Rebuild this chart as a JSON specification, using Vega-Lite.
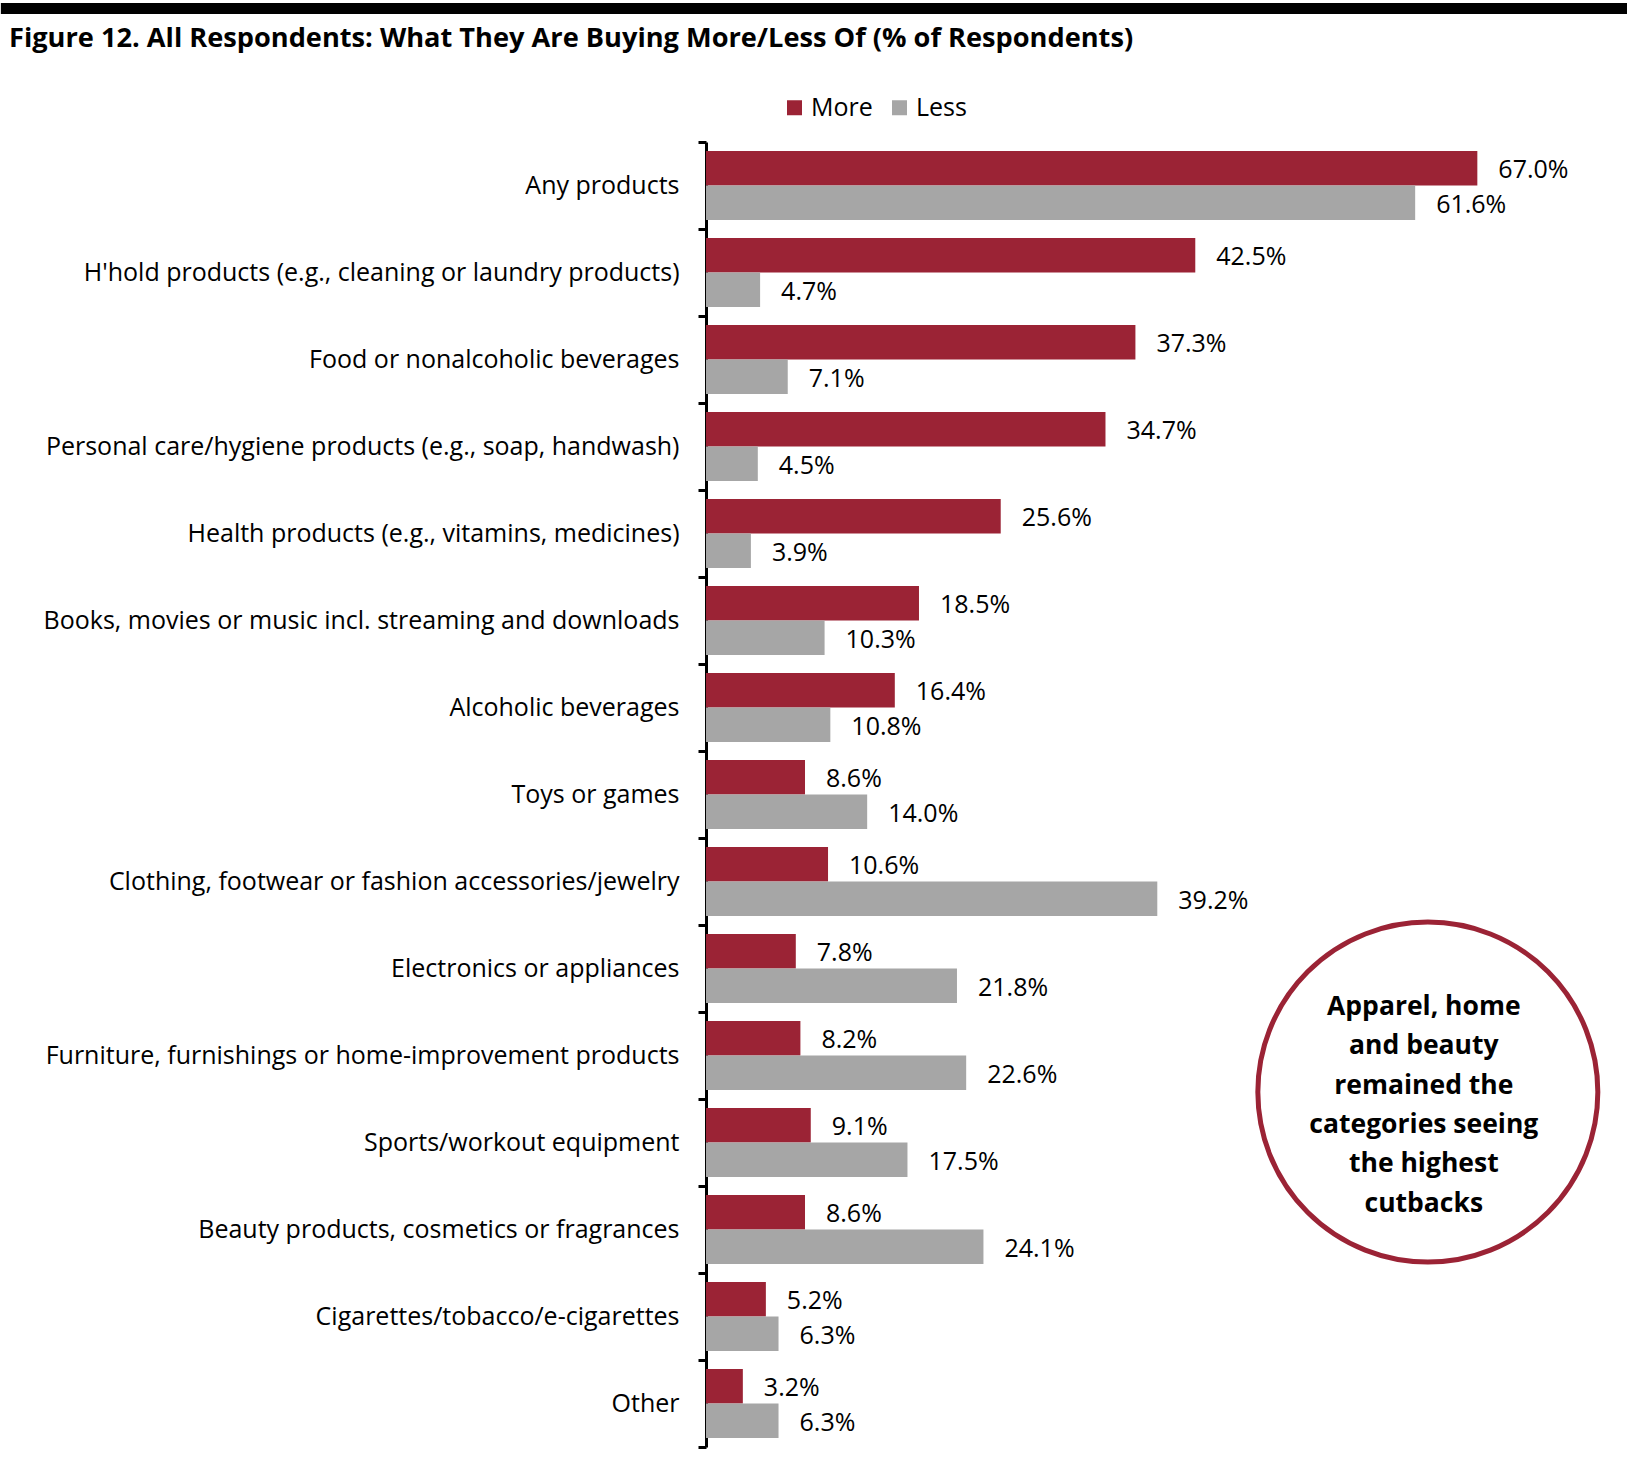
{
  "$schema": "https://vega.github.io/schema/vega-lite/v6.json",
  "padding": {"left": 0, "top": 3, "right": 0, "bottom": 0},
  "background": "white",
  "spacing": 10,
  "config": {"view": {"stroke": null}, "font": "Open Sans"},
  "datasets": {
    "bars": [
      {"cat": "Any products", "series": "More", "value": 0.670},
      {"cat": "Any products", "series": "Less", "value": 0.616},
      {"cat": "H'hold products (e.g., cleaning or laundry products)", "series": "More", "value": 0.425},
      {"cat": "H'hold products (e.g., cleaning or laundry products)", "series": "Less", "value": 0.047},
      {"cat": "Food or nonalcoholic beverages", "series": "More", "value": 0.373},
      {"cat": "Food or nonalcoholic beverages", "series": "Less", "value": 0.071},
      {"cat": "Personal care/hygiene products (e.g., soap, handwash)", "series": "More", "value": 0.347},
      {"cat": "Personal care/hygiene products (e.g., soap, handwash)", "series": "Less", "value": 0.045},
      {"cat": "Health products (e.g., vitamins, medicines)", "series": "More", "value": 0.256},
      {"cat": "Health products (e.g., vitamins, medicines)", "series": "Less", "value": 0.039},
      {"cat": "Books, movies or music incl. streaming and downloads", "series": "More", "value": 0.185},
      {"cat": "Books, movies or music incl. streaming and downloads", "series": "Less", "value": 0.103},
      {"cat": "Alcoholic beverages", "series": "More", "value": 0.164},
      {"cat": "Alcoholic beverages", "series": "Less", "value": 0.108},
      {"cat": "Toys or games", "series": "More", "value": 0.086},
      {"cat": "Toys or games", "series": "Less", "value": 0.140},
      {"cat": "Clothing, footwear or fashion accessories/jewelry", "series": "More", "value": 0.106},
      {"cat": "Clothing, footwear or fashion accessories/jewelry", "series": "Less", "value": 0.392},
      {"cat": "Electronics or appliances", "series": "More", "value": 0.078},
      {"cat": "Electronics or appliances", "series": "Less", "value": 0.218},
      {"cat": "Furniture, furnishings or home-improvement products", "series": "More", "value": 0.082},
      {"cat": "Furniture, furnishings or home-improvement products", "series": "Less", "value": 0.226},
      {"cat": "Sports/workout equipment", "series": "More", "value": 0.091},
      {"cat": "Sports/workout equipment", "series": "Less", "value": 0.175},
      {"cat": "Beauty products, cosmetics or fragrances", "series": "More", "value": 0.086},
      {"cat": "Beauty products, cosmetics or fragrances", "series": "Less", "value": 0.241},
      {"cat": "Cigarettes/tobacco/e-cigarettes", "series": "More", "value": 0.052},
      {"cat": "Cigarettes/tobacco/e-cigarettes", "series": "Less", "value": 0.063},
      {"cat": "Other", "series": "More", "value": 0.032},
      {"cat": "Other", "series": "Less", "value": 0.063}
    ],
    "note": [
      {"cat": "Furniture, furnishings or home-improvement products", "x": 0.627, "lines": ["Apparel, home", "and beauty", "remained the", "categories seeing", "the highest", "cutbacks"]}
    ]
  },
  "vconcat": [
    {
      "width": 921,
      "height": 11,
      "data": {"values": [{"s": -0.6125, "e": 0.8}]},
      "mark": {"type": "rect", "color": "black", "clip": false},
      "encoding": {
        "x": {"field": "s", "type": "quantitative", "scale": {"domain": [0, 0.8], "nice": false, "zero": false}, "axis": null},
        "x2": {"field": "e"}
      }
    },
    {
      "width": 921,
      "height": 1305,
      "title": {
        "text": "Figure 12. All Respondents: What They Are Buying More/Less Of (% of Respondents)",
        "anchor": "start",
        "frame": "bounds",
        "dx": 8,
        "fontSize": 27.2,
        "fontWeight": "bold",
        "color": "black",
        "offset": 77
      },
      "layer": [
        {
          "data": {"name": "bars"},
          "mark": {"type": "bar"},
          "encoding": {
            "x": {"field": "value", "type": "quantitative", "scale": {"domain": [0, 0.8], "nice": false}, "axis": null},
            "y": {
              "field": "cat", "type": "nominal",
              "scale": {"domain": ["Any products", "H'hold products (e.g., cleaning or laundry products)", "Food or nonalcoholic beverages", "Personal care/hygiene products (e.g., soap, handwash)", "Health products (e.g., vitamins, medicines)", "Books, movies or music incl. streaming and downloads", "Alcoholic beverages", "Toys or games", "Clothing, footwear or fashion accessories/jewelry", "Electronics or appliances", "Furniture, furnishings or home-improvement products", "Sports/workout equipment", "Beauty products, cosmetics or fragrances", "Cigarettes/tobacco/e-cigarettes", "Other"], "paddingInner": 0, "paddingOuter": 0},
              "axis": {"title": null, "domainColor": "black", "domainWidth": 3, "tickColor": "black", "tickWidth": 3, "tickSize": 8, "tickBand": "extent", "labelFontSize": 25, "labelColor": "black", "labelPadding": 19, "labelLimit": 700, "minExtent": 705, "maxExtent": 705}
            },
            "yOffset": {"field": "series", "type": "nominal", "scale": {"domain": ["More", "Less"], "paddingInner": 0, "paddingOuter": 0.26}},
            "color": {
              "field": "series", "type": "nominal",
              "scale": {"domain": ["More", "Less"], "range": ["#9B2335", "#A6A6A6"]},
              "legend": {"title": null, "orient": "none", "legendX": 76, "legendY": 92, "direction": "horizontal", "symbolType": "square", "symbolSize": 225, "symbolStrokeWidth": 0, "labelFontSize": 25, "labelColor": "black", "columnPadding": 14, "labelOffset": 4}
            }
          }
        },
        {
          "data": {"name": "bars"},
          "mark": {"type": "text", "align": "left", "baseline": "middle", "dx": 21, "dy": 2, "fontSize": 25, "color": "black"},
          "encoding": {
            "x": {"field": "value", "type": "quantitative"},
            "y": {"field": "cat", "type": "nominal"},
            "yOffset": {"field": "series", "type": "nominal"},
            "text": {"field": "value", "type": "quantitative", "format": ".1%"}
          }
        },
        {
          "data": {"name": "note"},
          "mark": {"type": "point", "shape": "circle", "filled": false, "size": 115600, "stroke": "#9B2335", "strokeWidth": 5, "opacity": 1},
          "encoding": {
            "x": {"field": "x", "type": "quantitative"},
            "y": {"field": "cat", "type": "nominal", "bandPosition": 0.92}
          }
        },
        {
          "data": {"name": "note"},
          "mark": {"type": "text", "align": "center", "baseline": "middle", "fontSize": 26.5, "fontWeight": "bold", "lineHeight": 39.3, "color": "black", "dx": -4, "dy": -92},
          "encoding": {
            "x": {"field": "x", "type": "quantitative"},
            "y": {"field": "cat", "type": "nominal", "bandPosition": 1.0},
            "text": {"field": "lines"}
          }
        }
      ]
    }
  ]
}
